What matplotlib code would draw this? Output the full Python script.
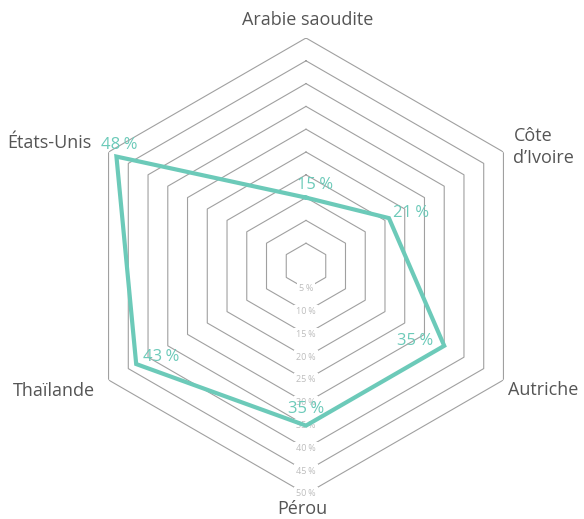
import numpy as np
import matplotlib.pyplot as plt

plt.rcParams['font.family'] = ['Open Sans', 'DejaVu Sans']

# data
countries = ['Arabie saoudite', 'Côte\nd\u2019Ivoire', 'Autriche', 'Pérou', 'Thaïlande', 'États-Unis']
values = [15, 21, 35, 35, 43, 48]
levels = [5, 10, 15, 20, 25, 30, 35, 40, 45, 50]

teal = '#6ccab9'
grey_grid = '#a0a0a0'
text_col = '#555555'

fig = plt.figure(figsize=(5.84, 5.19), dpi=100)
# axes box sized so the 50 % ring sits where it does in the picture
cx, cy, rad = 306 / 584, 1 - 266 / 519, 228
ax = fig.add_axes([cx - rad / 584, cy - rad / 519, 2 * rad / 584, 2 * rad / 519],
                  projection='polar')
ax.set_theta_zero_location('N')
ax.set_theta_direction(-1)
ax.set_ylim(0, 50)
ax.grid(False)
ax.spines['polar'].set_visible(False)
ax.set_xticks([])
ax.set_yticks([])
ax.patch.set_alpha(0)

n = len(countries)
theta = np.arange(n) * 2 * np.pi / n
theta_closed = np.append(theta, theta[0])

# hexagon rings
for lv in levels:
    ax.plot(theta_closed, [lv] * (n + 1), color=grey_grid, lw=0.8, zorder=1)
    ax.text(np.pi, lv, f'{lv}\u202f%', ha='center', va='center', fontsize=6.5,
            color='#bdbdbd', zorder=2,
            bbox=dict(boxstyle='square,pad=0.25', fc='white', ec='none'))

# data polygon
vals_closed = values + [values[0]]
ax.plot(theta_closed, vals_closed, color=teal, lw=3, zorder=3, solid_joinstyle='miter')

# value labels, offsets in pixels
val_offsets = [(9, 13), (22, 5), (-29, 5), (0, 17), (25, 7), (3, 12)]
for t, v, off in zip(theta, values, val_offsets):
    ax.annotate(f'{v}\u202f%', xy=(t, v), xytext=off, textcoords='offset pixels',
                ha='center', va='center', fontsize=12, color=teal, zorder=4)

# country labels
lab_pos = [((2, 18), 'center'), ((10, 5), 'left'), ((5, -10), 'left'),
           ((-4, -15), 'center'), ((-14, -11), 'right'), ((-17, 9), 'right')]
for t, name, (off, ha) in zip(theta, countries, lab_pos):
    ax.annotate(name, xy=(t, 50), xytext=off, textcoords='offset pixels',
                ha=ha, va='center', fontsize=13, color=text_col,
                linespacing=1.25, annotation_clip=False)

fig.savefig('out.png', dpi=100)
